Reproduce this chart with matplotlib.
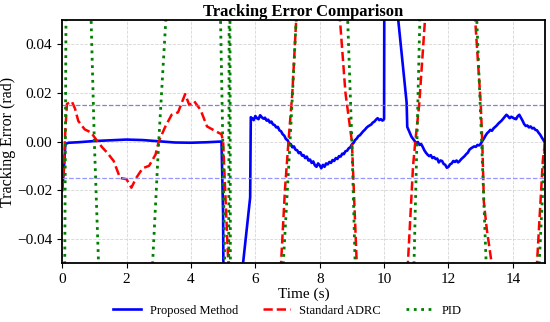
import numpy as np
import matplotlib
matplotlib.use("Agg")
import matplotlib.pyplot as plt
from matplotlib.ticker import FuncFormatter

plt.rcParams['font.family'] = ['Liberation Serif', 'DejaVu Serif']

# proposed method (time, error), split in pieces so it stays readable
prop_t1 = [0.00, 0.05, 0.10, 0.20, 0.50, 1.00, 1.50, 2.00, 2.50, 3.00, 3.50, 4.00, 4.50, 4.95,
           5.00, 5.02, 5.55, 5.62, 5.84, 5.86]
prop_e1 = [-0.020, -0.012, -0.001, -0.0005, -0.0003, 0.0002, 0.0005, 0.0008, 0.0006, 0.0001,
           -0.0004, -0.0005, -0.0003, 0.0,
           -0.030, -0.08, -0.08, -0.05, -0.023, 0.010]
prop_t2 = [5.90, 5.95, 6.00, 6.05, 6.10, 6.15, 6.20, 6.25, 6.30, 6.35, 6.40, 6.45, 6.50, 6.55,
           6.60, 6.65, 6.70, 6.75, 6.80, 6.85, 6.90, 6.95, 7.00, 7.05, 7.10, 7.15, 7.20, 7.25,
           7.30, 7.35, 7.40, 7.45, 7.50, 7.55, 7.60, 7.65, 7.70, 7.75, 7.80, 7.85, 7.90, 7.95,
           8.00, 8.05, 8.10, 8.15, 8.20, 8.25, 8.30, 8.35, 8.40, 8.45, 8.50, 8.55, 8.60, 8.65,
           8.70, 8.75, 8.80, 8.85, 8.90, 8.95, 9.00, 9.05, 9.10, 9.15, 9.20, 9.25, 9.30, 9.35,
           9.40, 9.45, 9.50, 9.55, 9.60, 9.65, 9.70, 9.75, 9.80, 9.85, 9.90, 9.95, 10.00]
prop_e2 = [0.0095, 0.0088, 0.0105, 0.0096, 0.0092, 0.0108, 0.0100, 0.0094, 0.0098, 0.0086,
           0.0090, 0.0078, 0.0082, 0.0070, 0.0068, 0.0058, 0.0060, 0.0046, 0.0042, 0.0030,
           0.0024, 0.0010, 0.0006, -0.0008, -0.0010, -0.0024, -0.0020, -0.0034, -0.0036,
           -0.0048, -0.0044, -0.0058, -0.0056, -0.0068, -0.0062, -0.0078, -0.0074, -0.0088,
           -0.0082, -0.0098, -0.0104, -0.0090, -0.0098, -0.0110, -0.0096, -0.0104, -0.0090,
           -0.0094, -0.0084, -0.0088, -0.0076, -0.0080, -0.0068, -0.0072, -0.0060, -0.0062,
           -0.0050, -0.0052, -0.0040, -0.0038, -0.0028, -0.0024, -0.0012, -0.0006, 0.0006,
           0.0012, 0.0022, 0.0026, 0.0034, 0.0042, 0.0048, 0.0056, 0.0062, 0.0066, 0.0070,
           0.0078, 0.0082, 0.0090, 0.0096, 0.0088, 0.0092, 0.0086, 0.0092]
prop_t3 = [10.01, 10.40, 10.44, 10.70, 10.72, 10.85]
prop_e3 = [0.08, 0.08, 0.05, 0.016, 0.006, 0.002]
prop_t4 = [10.96, 11.00, 11.05, 11.10, 11.15, 11.20, 11.25, 11.30, 11.35, 11.40, 11.45, 11.50,
           11.55, 11.60, 11.65, 11.70, 11.75, 11.80, 11.85, 11.90, 11.95, 12.00, 12.05, 12.10,
           12.15, 12.20, 12.25, 12.30, 12.35, 12.40, 12.45, 12.50, 12.55, 12.60, 12.65, 12.70,
           12.75, 12.80, 12.85, 12.90, 12.95, 13.00, 13.05, 13.10, 13.15, 13.20, 13.25, 13.30,
           13.35, 13.40, 13.45, 13.50, 13.55, 13.60, 13.65, 13.70, 13.75, 13.80, 13.85, 13.90,
           13.95, 14.00, 14.05, 14.10, 14.15, 14.20, 14.25, 14.30, 14.35, 14.40, 14.45, 14.50,
           14.55, 14.60, 14.65, 14.70, 14.75, 14.80, 14.85, 14.90, 14.95, 15.00]
prop_e4 = [0.0, -0.0006, -0.0002, -0.0014, -0.0010, -0.0022, -0.0036, -0.0046, -0.0054,
           -0.0060, -0.0056, -0.0068, -0.0064, -0.0072, -0.0070, -0.0086, -0.0078, -0.0080,
           -0.0092, -0.0096, -0.0108, -0.0104, -0.0094, -0.0090, -0.0080, -0.0084, -0.0078,
           -0.0086, -0.0080, -0.0072, -0.0066, -0.0060, -0.0052, -0.0046, -0.0034, -0.0028,
           -0.0024, -0.0020, -0.0022, -0.0014, -0.0016, -0.0010, 0.0002, 0.0012, 0.0024,
           0.0034, 0.0040, 0.0048, 0.0044, 0.0054, 0.0060, 0.0066, 0.0074, 0.0080, 0.0086,
           0.0094, 0.0102, 0.0110, 0.0104, 0.0096, 0.0102, 0.0098, 0.0094, 0.0092, 0.0104,
           0.0110, 0.0098, 0.0086, 0.0072, 0.0064, 0.0066, 0.0058, 0.0062, 0.0054, 0.0056,
           0.0048, 0.0046, 0.0036, 0.0028, 0.0016, 0.0006, -0.0006]
prop_t = prop_t1 + prop_t2 + prop_t3 + prop_t4
prop_e = prop_e1 + prop_e2 + prop_e3 + prop_e4

# standard ADRC
adrc_t = [0.0, 0.05, 0.1, 0.15, 0.3, 0.4, 0.5, 0.7, 0.9, 1.1, 1.25, 1.4, 1.6, 1.8, 2.0,
          2.15, 2.3, 2.5, 2.7, 2.9, 3.0, 3.2, 3.4, 3.6, 3.82, 3.95, 4.1, 4.3, 4.5, 4.8,
          4.95, 5.0, 5.08, 5.16, 5.2, 6.7, 6.80, 6.92, 7.03, 7.15, 7.27, 7.35,
          8.55, 8.63, 8.80, 9.0, 9.15, 9.2, 10.7, 10.74, 10.9, 10.97, 11.09, 11.27, 11.32,
          12.78, 12.83, 13.0, 13.05, 13.10, 13.19, 13.34, 13.4, 14.7, 14.75, 14.93, 15.0]
adrc_e = [-0.020, -0.012, 0.005, 0.0155, 0.0165, 0.0135, 0.0085, 0.0050, 0.0037, 0.0,
          -0.0025, -0.0046, -0.0080, -0.0150, -0.0155,
          -0.0190, -0.0150, -0.0110, -0.0100, -0.0054, 0.0, 0.0060, 0.0110, 0.0120, 0.0195,
          0.0150, 0.0166, 0.0130, 0.0062, 0.0040,
          0.0030, 0.0, -0.025, -0.050, -0.08, -0.08, -0.05, -0.02, 0.0, 0.02, 0.05, 0.08,
          0.08, 0.05, 0.02, 0.0, -0.05, -0.08, -0.08, -0.05, -0.01, 0.0, 0.015, 0.05, 0.08,
          0.08, 0.05, 0.016, 0.0, -0.025, -0.036, -0.05, -0.08, -0.08, -0.05, -0.008, 0.0]

# PID
pid_t = [0.07, 0.13, 0.85, 0.90, 1.00, 1.13, 1.18, 2.75, 2.81, 3.00, 3.22, 3.28,
         4.88, 4.92, 4.99, 5.05, 5.08, 5.17, 5.19, 5.21, 5.23,
         6.82, 6.87, 7.08, 7.27, 7.32, 8.83, 8.87, 9.0, 9.1, 9.14,
         10.88, 10.93, 11.02, 11.11, 11.14, 12.85, 12.88, 13.03, 13.17, 13.2,
         14.77, 14.82, 15.0]
pid_e = [-0.08, 0.08, 0.08, 0.05, 0.0, -0.05, -0.08, -0.08, -0.05, 0.0, 0.05, 0.08,
         0.08, 0.05, 0.0, -0.05, -0.08, -0.08, 0.08, 0.08, -0.08,
         -0.08, -0.05, 0.0, 0.05, 0.08, 0.08, 0.05, 0.0, -0.05, -0.08,
         -0.08, -0.05, 0.0, 0.05, 0.08, 0.08, 0.05, 0.0, -0.05, -0.08,
         -0.08, -0.05, 0.0]

threshold = 0.015

fig = plt.figure(figsize=(5.5, 3.22), dpi=100)
ax = fig.add_axes([0.113, 0.183, 0.878, 0.755])

ax.plot(prop_t, prop_e, color='blue', lw=1.9, label='Proposed Method')
ax.plot(adrc_t, adrc_e, color='red', lw=1.8, ls='--', label='Standard ADRC')
ax.plot(pid_t, pid_e, color='green', lw=2.0, ls=':', label='PID')

ax.axhline(threshold, color='#6f78c8', ls='--', lw=0.9, alpha=0.9)
ax.axhline(-threshold, color='#8c8cff', ls='--', lw=0.9, alpha=0.9)

ax.set_xlim(0, 15)
ax.set_ylim(-0.05, 0.05)
ax.set_xticks(np.arange(0, 15, 2))
ax.set_yticks([-0.04, -0.02, 0.0, 0.02, 0.04])
ax.yaxis.set_major_formatter(FuncFormatter(lambda v, p: ('%.2f' % v).replace('-', '\u2212')))
ax.tick_params(labelsize=11)
ax.grid(True, ls='--', color='#cccccc', lw=0.6, alpha=0.8)
for s in ax.spines.values():
    s.set_linewidth(1.3)

ax.set_xlabel('Time (s)', fontsize=11, labelpad=1)
ax.set_ylabel('Tracking Error (rad)', fontsize=11.5, labelpad=1)
ax.set_title('Tracking Error Comparison', fontsize=12, fontweight='bold', pad=3)

fig.legend(loc='lower center', bbox_to_anchor=(0.523, -0.018), ncol=3, frameon=False,
           fontsize=9, handlelength=2.2, handletextpad=0.7, columnspacing=2.0)

fig.savefig('out.png', dpi=100)
